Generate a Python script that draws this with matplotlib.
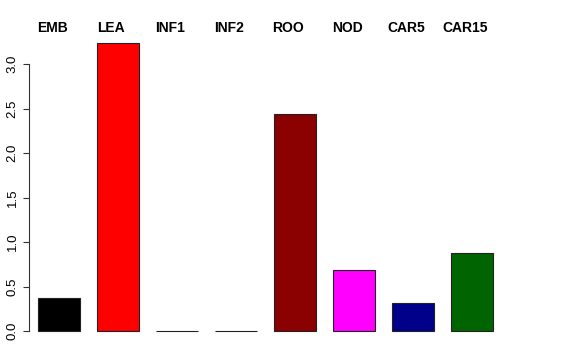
import matplotlib
matplotlib.use("Agg")
import matplotlib.pyplot as plt
import matplotlib.transforms as mtransforms
from matplotlib.transforms import offset_copy

plt.rcParams['font.family'] = ['Liberation Sans', 'DejaVu Sans']

categories = ["EMB", "LEA", "INF1", "INF2", "ROO", "NOD", "CAR5", "CAR15"]
values = [0.37, 3.24, 0.0, 0.0, 2.44, 0.685, 0.315, 0.876]
colors = ["black", "red", "green", "blue", "#8B0000", "magenta", "#00008B", "#006400"]
yticks = [0.0, 0.5, 1.0, 1.5, 2.0, 2.5, 3.0]
ytick_labels = ["0.0", "0.5", "1.0", "1.5", "2.0", "2.5", "3.0"]

W, H = 576, 360
fig = plt.figure(figsize=(W/100, H/100), dpi=100)

unit = 59/1.4
x0 = 21.3
left_px, right_px = 29, 540
bottom_px, top_px = 331, 40
ppu_y = 89.0
ax = fig.add_axes([left_px/W, (H-bottom_px)/H, (right_px-left_px)/W, (bottom_px-top_px)/H])
ax.set_xlim((left_px-x0)/unit, (right_px-x0)/unit)
ax.set_ylim(0, (bottom_px-top_px)/ppu_y)

space = 0.4
centers = [space + 0.5 + i*1.4 for i in range(len(categories))]
ax.bar(centers, values, width=1.0, color=colors, edgecolor="#222222", linewidth=0.8, clip_on=False)

for s in ["top", "right", "bottom"]:
    ax.spines[s].set_visible(False)
ax.spines["left"].set_bounds(0, 3.0)
ax.spines["left"].set_color("#333333")
ax.spines["left"].set_linewidth(0.8)
ax.set_xticks([])
ax.set_yticks(yticks)
ax.set_yticklabels(ytick_labels, rotation=90, va="center", fontsize=9.5)
ax.tick_params(axis="y", length=4.5, width=0.8, color="#333333", pad=3)

tr = offset_copy(ax.transData, fig=fig, x=-7, y=0, units="dots")
blend = mtransforms.blended_transform_factory(tr, fig.transFigure)
for c, lab in zip(centers, categories):
    ax.text(c, (H-28)/H, lab, transform=blend, ha="center", va="center",
            fontsize=10, fontweight="bold")

fig.savefig("out.png", dpi=100)
